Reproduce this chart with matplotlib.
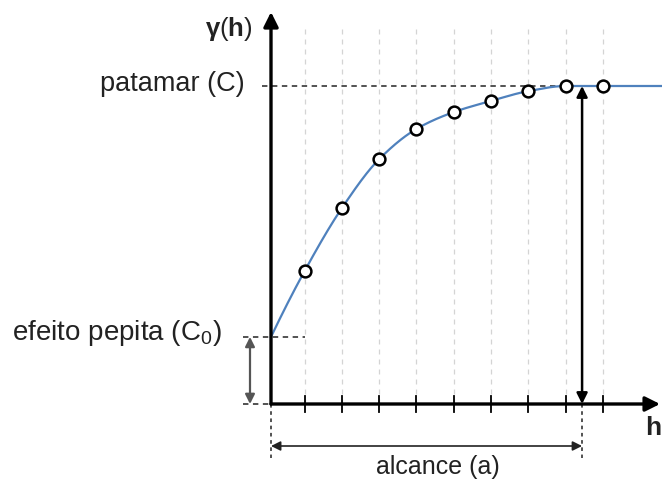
import numpy as np
import matplotlib
matplotlib.use("Agg")
import matplotlib.pyplot as plt

plt.rcParams['font.family'] = ['Liberation Sans', 'DejaVu Sans']
plt.rcParams['mathtext.fontset'] = 'custom'
plt.rcParams['mathtext.rm'] = 'Liberation Sans'
plt.rcParams['mathtext.it'] = 'Liberation Sans'
plt.rcParams['mathtext.bf'] = 'Liberation Sans:bold'

# ---- data ----
lags = [0.9, 1.9, 2.9, 3.9, 4.9, 5.9, 6.9, 7.9, 8.9]
gamma_obs = [0.418, 0.616, 0.770, 0.865, 0.918, 0.953, 0.984, 1.0, 1.0]
nugget = 0.211
sill = 1.0
range_a = 8.34
h_max = 10.43

label_sill = "patamar (C)"
label_nugget = "efeito pepita (C$_0$)"
label_range = "alcance (a)"
label_x = "h"


def pchip(x, y, xn):
    x = np.asarray(x, float); y = np.asarray(y, float)
    h = np.diff(x); d = np.diff(y) / h
    n = len(x); m = np.zeros(n)
    for k in range(1, n - 1):
        if d[k - 1] * d[k] <= 0:
            m[k] = 0.0
        else:
            w1 = 2 * h[k] + h[k - 1]; w2 = h[k] + 2 * h[k - 1]
            m[k] = (w1 + w2) / (w1 / d[k - 1] + w2 / d[k])
    m[0] = ((2 * h[0] + h[1]) * d[0] - h[0] * d[1]) / (h[0] + h[1])
    if np.sign(m[0]) != np.sign(d[0]):
        m[0] = 0
    m[-1] = 0.0
    out = np.empty_like(xn)
    idx = np.clip(np.searchsorted(x, xn) - 1, 0, n - 2)
    for i, xv in enumerate(xn):
        k = idx[i]; t = (xv - x[k]) / h[k]
        h00 = 2*t**3 - 3*t**2 + 1; h10 = t**3 - 2*t**2 + t
        h01 = -2*t**3 + 3*t**2; h11 = t**3 - t**2
        out[i] = h00*y[k] + h10*h[k]*m[k] + h01*y[k+1] + h11*h[k]*m[k+1]
    return out


W, H = 662, 479
fig = plt.figure(figsize=(W / 100, H / 100), dpi=100)
ax = fig.add_axes([0, 0, 1, 1])
# pixel mapping: origin at (271, 404), 37.3 px per lag unit, 318 px per gamma unit
sx, sy, ox, oy = 37.3, 318.0, 271.0, 404.0
ax.set_xlim(-ox / sx, (W - ox) / sx)
ax.set_ylim(-(H - oy) / sy, oy / sy)
ax.axis('off')

px = lambda p: (p - ox) / sx
py = lambda p: (oy - p) / sy

# grid lines
for h in lags:
    ax.plot([h, h], [0, py(28)], color='#d4d4d4', lw=0.9, ls=(0, (4, 4)), zorder=1)

# sill dashed line
ax.plot([px(262), h_max + 0.1], [sill, sill], color='#444444', lw=1.3, ls=(0, (3, 2.5)), zorder=2)
# nugget dashed lines
ax.plot([px(243), px(305)], [nugget, nugget], color='#444444', lw=1.3, ls=(0, (3, 2.5)), zorder=2)
ax.plot([px(243), 0], [0, 0], color='#444444', lw=1.3, ls=(0, (3, 2.5)), zorder=2)
# dotted verticals below axis
for xv in [0, range_a]:
    ax.plot([xv, xv], [0, py(458)], color='#444444', lw=1.3, ls=(0, (2, 2)), zorder=2)

# curve
xs = np.linspace(0, lags[-1], 300)
ys = pchip([0] + lags, [nugget] + gamma_obs, xs)
xs = np.append(xs, h_max + 0.2)
ys = np.append(ys, sill)
ax.plot(xs, ys, color='#4f81bd', lw=1.6, zorder=3)

# axes with arrows
ax.annotate('', xy=(h_max, 0), xytext=(0, 0),
            arrowprops=dict(arrowstyle='-|>', lw=2.4, color='black', shrinkA=0, shrinkB=0,
                            mutation_scale=22), zorder=5)
ax.annotate('', xy=(0, py(12)), xytext=(0, 0),
            arrowprops=dict(arrowstyle='-|>', lw=2.4, color='black', shrinkA=0, shrinkB=0,
                            mutation_scale=22), zorder=5)
# ticks
for h in lags:
    ax.plot([h, h], [-8 / sy, 8 / sy], color='black', lw=1.3, zorder=4)

# points
ax.plot(lags, gamma_obs, 'o', ms=8.5, mfc='white', mec='black', mew=1.8, zorder=6)

# nugget arrow
ax.annotate('', xy=(px(250), 0), xytext=(px(250), nugget),
            arrowprops=dict(arrowstyle='<|-|>', lw=1.6, color='#555555', shrinkA=0, shrinkB=0,
                            mutation_scale=14), zorder=4)
# range arrows
ax.annotate('', xy=(range_a, 0), xytext=(range_a, sill),
            arrowprops=dict(arrowstyle='<|-|>', lw=1.8, color='black', shrinkA=0, shrinkB=0,
                            mutation_scale=16), zorder=4)
ax.annotate('', xy=(range_a, py(446)), xytext=(0, py(446)),
            arrowprops=dict(arrowstyle='<|-|>', lw=1.2, color='#222222', shrinkA=0, shrinkB=0,
                            mutation_scale=14), zorder=4)

# texts
ax.text(px(253), py(29), "$\\mathbf{γ}$($\\mathbf{h}$)", fontsize=18.5, ha='right', va='center', color='#222222')
ax.text(px(245), py(84), label_sill, fontsize=19.5, ha='right', va='center', color='#222222')
ax.text(px(222), py(333), label_nugget, fontsize=20, ha='right', va='center', color='#222222')
ax.text(px(438), py(467), label_range, fontsize=18, ha='center', va='center', color='#222222')
ax.text(px(645), py(428), label_x, fontsize=19, fontweight='bold', ha='left', va='center', color='#222222')

fig.savefig('out.png', dpi=100)
